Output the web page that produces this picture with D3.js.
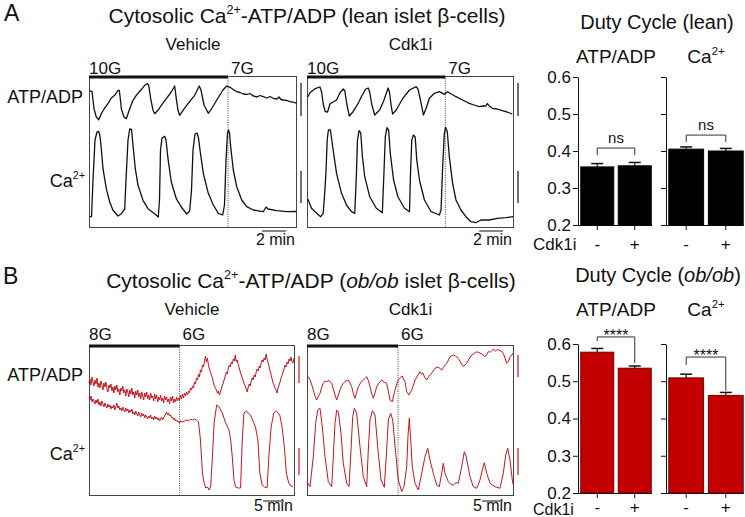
<!DOCTYPE html>
<html><head><meta charset="utf-8">
<script src="https://cdn.jsdelivr.net/npm/d3@7"></script>
<style>
body{margin:0;background:#fff}
svg{display:block}
text{font-family:"Liberation Sans",Arial,Helvetica,sans-serif;fill:#111}
</style></head>
<body><svg id="c" width="745" height="517"></svg>
<script>
// ---------------- DATA ----------------
// Traces: [frame, fluorescence (a.u.)]. Panel A: 5 s/frame; panel B: 5/21 min per frame.
const leanVehATP = [[0.7,137],[3,136.7],[5,119.3],[7.3,111],[9.7,108.3],[12.3,114.3],[15.7,120],[19,124.3],[22.3,130],[25.7,132.7],[29,137.7],[30.3,137.7],[31.3,129.3],[32.3,119.3],[35,111],[37.3,109.3],[40.7,119.3],[44,127.7],[47.3,132.7],[51.7,137.7],[55.7,142.7],[58.3,144.3],[59.7,142.7],[61.7,129.3],[64,117.7],[65.7,114.3],[69,117.7],[72.3,122.7],[77.3,129.3],[82.3,136],[85.7,142],[87.3,129.3],[89,117.7],[90.7,112.7],[94,117.7],[99,124.3],[105.7,132.7],[110.3,142],[112,138],[115,123],[119.3,114.7],[123,120],[129,130],[134,138],[137.7,142],[141,140.7],[145,138],[147.7,136.3],[151,135.5],[154.3,134],[158,133.5],[161,134.5],[164.3,132],[168,131],[171,132.5],[174.3,131.3],[178,130],[181,131.5],[184.3,129.7],[188,129],[190,131],[192,128.5],[194.3,128],[198,127.5],[201,126.3],[204,126],[207.7,124.7]];
const leanVehCa = [[0.5,11.3],[2.5,11.3],[4,48],[6,88],[8,96],[9.5,96.7],[11,92],[12.3,79.3],[14,59.3],[17.3,39.3],[20.7,26],[24,17.7],[29,12],[32.3,14.3],[35.7,19],[37,48],[39,88],[40.7,99],[42.5,98.5],[44,82.7],[46.3,59.3],[49,42.7],[54,27.7],[59,19.3],[65.7,14.3],[69.3,11],[70.5,28],[71.5,78],[73,90],[75.7,91.7],[77,88],[79,69.3],[82.3,46],[87.3,29.3],[92.3,21],[97.7,14],[100.7,17],[102.5,38],[104,78],[106,94],[108,95],[109.5,90],[111,78],[114.3,54.7],[119.3,34.7],[124.3,23],[129.3,14.7],[133.7,13],[135.5,23],[137,68],[138.5,95],[139.5,98],[140.5,95],[141.7,81.3],[144.3,58],[147.7,41.3],[152.7,28],[157.7,21.3],[164.3,18],[174.3,16.3],[177,21],[179,19],[187.7,17.3],[197.7,16.3],[207.7,16.5]];
const leanCdkATP = [[0.7,131],[3,135.3],[8,139.3],[13,141],[14.7,136],[16.3,124],[18.3,116.5],[20.7,116],[23,124],[26.3,126],[29.7,128],[33,135],[36.5,139],[38,137],[40,124],[42.5,112],[46.3,116.3],[51,124],[55,132],[59,139],[61.5,140],[63,136],[65,124],[68,113],[73,118],[77,127],[81.5,140],[83,135],[84.5,123],[86,114],[89.7,118],[96.3,129.7],[103,138],[109.7,141.3],[111.5,139],[114.7,124.7],[117,113],[119.7,119.7],[123,129.7],[128,134.7],[133,136.3],[138,133.7],[141.3,136.3],[145,134],[149.7,131.3],[156.3,128],[163,124.7],[168,123],[173,121.3],[177,122],[179.7,122],[181.3,124.5],[183,122],[186.3,119.7],[191,119],[196.3,117.3],[201,116],[206.3,114]];
const leanCdkCa = [[0.7,29.3],[4.7,19.5],[9.7,14.7],[13.7,11.3],[16.3,14.7],[18,38],[19,54.7],[20.3,88],[21.5,98],[23.5,98],[26.3,78],[29.7,54.7],[34.7,34.7],[39.7,23],[44.7,16.3],[48,14.7],[49.7,54.7],[50.7,88],[52.3,97.3],[54,95],[55.7,71.3],[58,51.3],[63,31.3],[69.7,19.7],[75.7,15.3],[77.3,54.7],[78.7,91.3],[80.3,100.3],[82,98],[83.7,74.7],[87,48],[91.3,31.3],[98,19.7],[103,16.3],[104,54.7],[105.3,88],[107,93],[108.7,91],[110.3,68],[113,48],[118,28],[124.7,16.3],[133,13],[134.7,18],[136.3,61.3],[138,94.7],[139.3,100.7],[141,96],[143,71.3],[146.3,44.7],[149.7,28],[154.7,18],[159.7,11.3],[164.7,6.3],[169.7,5.3],[174.7,8],[183,8],[191.3,9.7],[199.7,10.3],[207,11.3]];

const obVehATP = [[0,113],[1,117],[2,111],[3,119],[4,114],[5,110],[6,116],[7,112],[8,118],[9,109],[10,113],[11,108],[12,115],[13,111],[14,106],[15,113],[16,109],[17,114],[18,107],[19,104],[20,111],[21,108],[22,112],[23,105],[24,109],[25,103],[26,110],[27,106],[28,111],[29,104],[30,107],[31,101],[32,108],[33,105],[34,110],[35,103],[36,106],[37,100],[38,107],[39,104],[40,99],[41,106],[42,102],[43,108],[44,101],[45,104],[46,98],[47,105],[48,101],[49,106],[50,99],[51,103],[52,97],[53,104],[54,100],[55,96],[56,103],[57,99],[58,104],[59,97],[60,101],[61,96],[62,103],[63,98],[64,100],[65,95],[66,102],[67,97],[68,101],[69,94],[70,99],[71,96],[72,101],[73,95],[74,98],[75,93],[76,100],[77,96],[78,99],[79,94],[80,97],[81,92],[82,99],[83,95],[84,100],[85,93],[86,97],[87,94],[88,99],[89,95],[90,98],[91,96],[92,101],[93,97],[94,102],[95,98],[96,103],[97,100],[98,104],[99,101],[100,105],[101,103],[102,108],[103,106],[104,110],[105,108],[106,114],[107,112],[108,118],[109,116],[110,122],[111,119],[112,126],[113,124],[114,131],[115,129],[116,134],[117,140],[118,134],[119,138],[120,131],[121,127],[122,124],[123,121],[124,118],[125,113],[126,110],[127,108],[128,106],[129,103],[130,105],[131,101],[132,104],[133,107],[134,111],[135,113],[136,117],[137,120],[138,124],[139,122],[140,128],[141,131],[142,129],[143,134],[144,132],[145,137],[146,135],[147,141],[148,134],[149,136],[150,131],[151,128],[152,124],[153,121],[154,118],[155,115],[156,112],[157,110],[158,107],[159,104],[160,109],[161,112],[162,110],[163,115],[164,118],[165,116],[166,121],[167,119],[168,124],[169,127],[170,125],[171,130],[172,128],[173,133],[174,136],[175,134],[176,138],[177,136],[178,142],[179,137],[180,133],[181,129],[182,125],[183,121],[184,117],[185,113],[186,111],[187,108],[188,106],[189,103],[190,108],[191,111],[192,114],[193,118],[194,121],[195,124],[196,127],[197,131],[198,129],[199,134],[200,132],[201,137],[202,135],[203,139],[204,134],[205,133],[206,138]];
const obVehCa = [[0,99],[1,96],[2,100],[3,94],[4,97],[5,95],[6,92],[7,96],[8,93],[9,97],[10,91],[11,94],[12,90],[13,95],[14,92],[15,89],[16,93],[17,90],[18,88],[19,92],[20,89],[21,91],[22,87],[23,90],[24,88],[25,91],[26,86],[27,89],[28,93],[29,88],[30,90],[31,86],[32,88],[33,85],[34,89],[35,86],[36,84],[37,88],[38,85],[39,87],[40,83],[41,86],[42,84],[43,87],[44,82],[45,84],[46,81],[47,85],[48,82],[49,80],[50,84],[51,81],[52,79],[53,83],[54,80],[55,82],[56,78],[57,81],[58,79],[59,77],[60,80],[61,78],[62,81],[63,77],[64,79],[65,76],[66,80],[67,77],[68,79],[69,76],[70,78],[71,75],[72,77],[73,79],[74,76],[75,78],[76,80],[77,82],[78,84],[79,81],[80,83],[81,80],[82,81],[83,78],[84,79],[85,76],[86,78],[87,75],[88,76],[89,74],[90,75],[91,73],[92,75],[94,74],[96,75],[98,76],[100,75],[102,77],[104,76],[106,77],[108,76],[110,74],[112,56],[114,23],[115.7,13],[117.3,8],[119,9],[120.7,6],[122.3,10],[124,39],[125.7,73],[128.3,91],[130.7,89],[134,83],[137.3,73],[140.7,66],[142.5,55],[144,39],[145.7,16],[147.3,9],[150,8],[152.3,8],[154,56],[155.7,83],[158,85],[162.3,81],[167.3,69],[169.7,56],[171.7,23],[174,11],[176.5,9],[179,8],[180.7,39],[183,69],[185.7,83],[188.3,85],[191.7,81],[194,69],[196.3,49],[198.3,23],[200.7,13],[203,10],[205,9]];
const obCdkATP = [[0,117.7],[1.5,119],[3,116],[4.5,112],[6.3,106],[8,100],[9.7,96],[11,99],[13,102.7],[14.5,108],[16.3,112.7],[18,115],[19.7,114.3],[22,115.5],[24.7,112.7],[26.5,106],[28,101],[29.7,96],[31,100],[33,106],[34.5,110],[36.3,112.7],[38.5,115],[41.3,116],[43,113],[44.7,109.3],[46.5,102],[48,97.7],[49.5,103],[51.3,109.3],[53.5,113],[56.3,116],[58,117.5],[59.7,119.3],[61.5,115],[63,109.3],[64.5,103],[66.3,97.7],[68,103],[69.7,109.3],[72,113],[74.7,116],[77,114],[79.7,112.7],[81.5,104],[83,96],[85.3,94.3],[86.5,100],[88,106],[89.5,111],[91.3,116],[93.5,118.5],[95.3,120],[96.5,117],[98,114.3],[99.7,104.3],[102,101],[103.5,104],[104.7,106],[106.5,111],[108,116],[110.5,120],[113,124.3],[114.5,122],[116,123],[117.5,119],[119.7,116],[121.5,119],[123,121],[125.5,124],[128,127.7],[131,129],[133,127.5],[134.7,126],[137,129.5],[139.7,132.7],[141.5,136],[143,139.3],[146.3,141],[148.5,140],[151.3,137.7],[154,133],[156.3,129.3],[158,131],[159.7,132.7],[162,137],[164.7,141],[167,142.5],[169.7,144.3],[173,143],[175.5,141.5],[178,139.3],[179.5,141],[181.3,144.3],[183.5,144],[186.3,146.7],[188.5,145],[190.5,146.5],[193,145.3],[195,144.5],[196.3,142.7],[198,138],[199.7,132.7],[201.5,135],[203,139.3],[205,141],[206.3,143.3]];
const obCdkCa = [[0,14.3],[3,9.3],[6.3,39.3],[8.7,72.7],[10.7,86],[13,87.7],[15.3,69.3],[18,39.3],[21.3,14.3],[24.7,9.3],[26.3,39.3],[28,72.7],[29.7,86],[31.3,84.3],[34,62.7],[36.3,32.7],[39.7,12.7],[42,9.3],[44,46],[45.7,79.3],[47.3,87.7],[49.7,82.7],[53,49.3],[56.3,19.3],[59.7,9.3],[61.3,46],[63,76],[65.3,85.3],[68,81],[70.7,49.3],[74,16],[77.3,8.7],[79.7,46],[81.3,76],[83.7,82.7],[85.7,76],[88.7,42.7],[91.3,16],[94.7,4.3],[97,9.3],[99.7,29.3],[101,60],[102.3,77.7],[103.7,56],[105.3,29.3],[108,12.7],[111.3,6],[114.7,22.7],[118,39.3],[120.7,47.7],[123,36],[126.3,22.7],[129.7,11],[132.3,9.3],[134.7,22.7],[136.3,32.7],[138,22.7],[141.3,14.3],[143.5,12],[146.3,11],[149,13.5],[151.3,12.7],[154.7,29.3],[157.3,44.3],[159,40],[163,19.3],[166.3,9.3],[169.7,7.7],[173,16],[175.3,26],[177.3,33.3],[179.7,22.7],[183,12.7],[188,9.3],[193,7.7],[196.3,22.7],[198.7,41],[200.7,47.7],[203,36],[205.3,16],[206.3,11]];

// Duty cycle bar data
const dutyCats = ["-", "+"];
const dutyTicks = [0.2, 0.3, 0.4, 0.5, 0.6];
const leanAtpDuty = [0.357, 0.360], leanAtpSem = [0.009, 0.009];
const leanCaDuty  = [0.405, 0.400], leanCaSem  = [0.006, 0.007];
const obAtpDuty   = [0.578, 0.535], obAtpSem   = [0.010, 0.006];
const obCaDuty    = [0.509, 0.462], obCaSem    = [0.010, 0.008];
// significance brackets: [bracket level, left leg end, right leg end, label]
const leanAtpSig = [0.408, 0.389, 0.389, "ns"];
const leanCaSig  = [0.443, 0.424, 0.424, "ns"];
const obAtpSig   = [0.619, 0.608, 0.549, "****"];
const obCaSig    = [0.565, 0.544, 0.474, "****"];

// ---------------- DRAW ----------------
const svg = d3.select("#c");
const RED = "#c3161c", BARRED = "#c40000";

function rich(g, x, y, parts, size, anchor) {
  const t = g.append("text").attr("x", x).attr("y", y).attr("font-size", size)
    .attr("text-anchor", anchor || "middle");
  let shift = 0;
  parts.forEach(p => {
    const ts = t.append("tspan").text(p.t);
    if (p.sup) { ts.attr("font-size", size * 0.6).attr("dy", -size * 0.42); shift = size * 0.42; }
    else if (shift) { ts.attr("dy", shift); shift = 0; }
    if (p.it) ts.attr("font-style", "italic");
  });
  return t;
}
function txt(g, x, y, s, size, anchor) {
  return g.append("text").attr("x", x).attr("y", y).attr("font-size", size)
    .attr("text-anchor", anchor || "start").text(s);
}

function tracePanel(c) {
  const g = svg.append("g");
  const x = d3.scaleLinear().domain([0, c.frames]).range([c.left, c.right]);
  const y = d3.scaleLinear().domain([0, c.vmax]).range([c.bottom, c.top]);
  const line = d3.line().x(d => x(d[0])).y(d => y(d[1]));
  g.append("rect").attr("x", c.left + 0.5).attr("y", c.top + 0.5)
    .attr("width", c.right - c.left - 1).attr("height", c.bottom - c.top - 1)
    .attr("fill", "none").attr("stroke", "#444").attr("stroke-width", 1);
  g.append("line").attr("x1", x(c.sw)).attr("x2", x(c.sw)).attr("y1", c.top).attr("y2", c.bottom)
    .attr("stroke", "#444").attr("stroke-width", 1).attr("stroke-dasharray", "1,1.3");
  g.append("line").attr("x1", c.left).attr("x2", x(c.sw)).attr("y1", c.top + 1).attr("y2", c.top + 1)
    .attr("stroke", "#111").attr("stroke-width", 3);
  [c.ca, c.atp].forEach(d => g.append("path").datum(d).attr("d", line)
    .attr("fill", "none").attr("stroke", c.color).attr("stroke-width", c.lw).attr("stroke-linejoin", "round"));
  txt(g, c.left, c.glucY, c.hi, 17);
  txt(g, x(c.sw) + 3, c.glucY, c.lo, 17);
  txt(g, (c.left + c.right) / 2, c.condY, c.cond, 17, "middle");
  const sx = c.right + 4;
  [c.atpBar, c.caBar].forEach(b => g.append("line").attr("x1", sx).attr("x2", sx)
    .attr("y1", y(b[0])).attr("y2", y(b[1])).attr("stroke", c.color).attr("stroke-width", 1.2));
  g.append("line").attr("x1", x(c.frames - 11 - c.barFrames)).attr("x2", x(c.frames - 11))
    .attr("y1", c.bottom + c.tOff).attr("y2", c.bottom + c.tOff).attr("stroke", "#111").attr("stroke-width", 1);
  txt(g, c.right - 2, c.bottom + c.tLab, c.tText, 16, "end");
}

// Panel A
txt(svg, 4, 21, "A", 23);
rich(svg, 307, 23, [{t: "Cytosolic Ca"}, {t: "2+", sup: true}, {t: "-ATP/ADP (lean islet β-cells)"}], 21);
txt(svg, 83, 103, "ATP/ADP", 18, "end");
rich(svg, 85, 187, [{t: "Ca"}, {t: "2+", sup: true}], 18, "end");
const commonA = {top: 76, bottom: 228, frames: 208, sw: 139, vmax: 152, color: "#111", lw: 1.3,
  hi: "10G", lo: "7G", glucY: 74, condY: 50, atpBar: [112, 145], caBar: [25, 57],
  barFrames: 24, tOff: 3, tLab: 17, tText: "2 min"};
tracePanel({...commonA, left: 89, right: 297, atp: leanVehATP, ca: leanVehCa, cond: "Vehicle"});
tracePanel({...commonA, left: 307, right: 514, atp: leanCdkATP, ca: leanCdkCa, cond: "Cdk1i"});

// Panel B
txt(svg, 3, 284, "B", 23);
rich(svg, 311, 288, [{t: "Cytosolic Ca"}, {t: "2+", sup: true}, {t: "-ATP/ADP ("}, {t: "ob/ob", it: true}, {t: " islet β-cells)"}], 21);
txt(svg, 83, 381, "ATP/ADP", 18, "end");
rich(svg, 85, 460, [{t: "Ca"}, {t: "2+", sup: true}], 18, "end");
const commonB = {top: 345, bottom: 496, frames: 207, sw: 91, vmax: 151, color: RED, lw: 1.0,
  hi: "8G", lo: "6G", glucY: 340, condY: 315, caBar: [21, 48],
  barFrames: 21, tOff: 5, tLab: 15, tText: "5 min"};
tracePanel({...commonB, left: 89, right: 295, atp: obVehATP, ca: obVehCa, cond: "Vehicle", atpBar: [113, 140]});
tracePanel({...commonB, left: 307, right: 514, atp: obCdkATP, ca: obCdkCa, cond: "Cdk1i", atpBar: [119, 141]});

// Duty cycle bars
function barPanel(c) {
  const g = svg.append("g");
  const y = d3.scaleLinear().domain([0.2, 0.6]).range([c.bottom, c.top]);
  const xb = d3.scaleBand().domain(dutyCats).range([c.x0, c.x1]).paddingInner(0.12).paddingOuter(0.02);
  const ax = d3.axisLeft(y).tickValues(dutyTicks).tickSize(5).tickSizeOuter(0).tickPadding(2)
    .tickFormat(c.labels ? d3.format(".1f") : "");
  const ag = g.append("g").attr("transform", `translate(${c.axisX},0)`).call(ax);
  ag.selectAll("text").attr("font-size", 17).attr("fill", "#111")
    .attr("font-family", '"Liberation Sans",Arial,sans-serif');
  ag.selectAll("line,path").attr("stroke", "#111");
  g.append("line").attr("x1", c.axisX).attr("x2", c.x1).attr("y1", c.bottom + 0.5).attr("y2", c.bottom + 0.5)
    .attr("stroke", "#111");
  dutyCats.forEach((k, i) => {
    const cx = xb(k) + xb.bandwidth() / 2;
    g.append("rect").attr("x", xb(k)).attr("y", y(c.vals[i])).attr("width", xb.bandwidth())
      .attr("height", c.bottom - y(c.vals[i])).attr("fill", c.fill).attr("stroke", c.stroke).attr("stroke-width", 1);
    const ty = y(c.vals[i] + c.sem[i]);
    g.append("line").attr("x1", cx).attr("x2", cx).attr("y1", y(c.vals[i])).attr("y2", ty).attr("stroke", "#111").attr("stroke-width", 1.2);
    g.append("line").attr("x1", cx - 6).attr("x2", cx + 6).attr("y1", ty).attr("y2", ty).attr("stroke", "#111").attr("stroke-width", 1.5);
    g.append("line").attr("x1", cx).attr("x2", cx).attr("y1", c.bottom).attr("y2", c.bottom + 5).attr("stroke", "#111");
    txt(g, cx, c.bottom + c.labOff, k, 17, "middle");
  });
  const s = c.sig;
  const xa = xb(dutyCats[0]) + xb.bandwidth() / 2, xc = xb(dutyCats[1]) + xb.bandwidth() / 2;
  g.append("path").attr("d", `M${xa},${y(s[1])}V${y(s[0])}H${xc}V${y(s[2])}`)
    .attr("fill", "none").attr("stroke", "#333").attr("stroke-width", 1);
  if (s[3] === "ns") txt(g, (xa + xc) / 2, y(s[0]) - 5, s[3], 15, "middle");
  else txt(g, (xa + xc) / 2, y(s[0]) + 4, s[3], 16, "middle");
  rich(g, (c.x0 + c.x1) / 2, c.titleY, c.title, 19);
}

rich(svg, 657, 29, [{t: "Duty Cycle (lean)"}], 20);
barPanel({top: 77, bottom: 225, axisX: 578, x0: 580, x1: 652, labels: true, vals: leanAtpDuty, sem: leanAtpSem,
  fill: "#000", stroke: "#000", sig: leanAtpSig, title: [{t: "ATP/ADP"}], titleY: 63, labOff: 25});
barPanel({top: 77, bottom: 225, axisX: 666, x0: 668, x1: 744, labels: false, vals: leanCaDuty, sem: leanCaSem,
  fill: "#000", stroke: "#000", sig: leanCaSig, title: [{t: "Ca"}, {t: "2+", sup: true}], titleY: 63, labOff: 25});
txt(svg, 533, 250, "Cdk1i", 17);

rich(svg, 658, 282, [{t: "Duty Cycle ("}, {t: "ob/ob", it: true}, {t: ")"}], 20);
barPanel({top: 344, bottom: 493, axisX: 578, x0: 580, x1: 652, labels: true, vals: obAtpDuty, sem: obAtpSem,
  fill: BARRED, stroke: "#6a0000", sig: obAtpSig, title: [{t: "ATP/ADP"}], titleY: 316, labOff: 20});
barPanel({top: 344, bottom: 493, axisX: 666, x0: 668, x1: 744, labels: false, vals: obCaDuty, sem: obCaSem,
  fill: BARRED, stroke: "#6a0000", sig: obCaSig, title: [{t: "Ca"}, {t: "2+", sup: true}], titleY: 316, labOff: 20});
txt(svg, 533, 515, "Cdk1i", 16);
</script></body></html>
